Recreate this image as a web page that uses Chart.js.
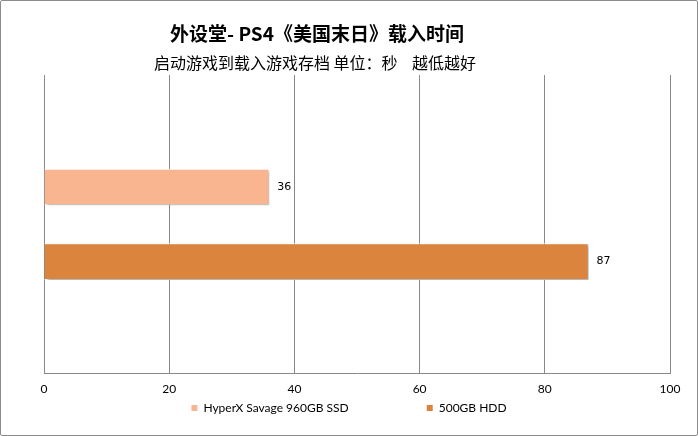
<!DOCTYPE html>
<html>
<head>
<meta charset="utf-8">
<script src="https://cdn.jsdelivr.net/npm/chart.js@4"></script>
<style>
  body { margin: 0; background: #fff; }
  #wrap { position: relative; width: 698px; height: 436px; }
  #frame { position: absolute; left: 0; top: 0; width: 696px; height: 434px;
           border: 1px solid #8c8c8c; border-radius: 2px; pointer-events: none; }
</style>
</head>
<body>
<div id="wrap">
  <canvas id="c"></canvas>
  <div id="frame"></div>
</div>
<script>
// data
const titleText = "外设堂- PS4《美国末日》载入时间";
const subtitleText = "启动游戏到载入游戏存档 单位：秒    越低越好";
const categories = [""];
const seriesNames = ["HyperX Savage 960GB SSD", "500GB HDD"];
const ssdValues = [36];
const hddValues = [87];
const seriesColors = ["#F8B58F", "#DB843D"];
const xTicks = [0, 20, 40, 60, 80, 100];

// titres dessinés a la main (centre decale comme dans l'original)
const titlePlugin = {
  id: "titles",
  afterDraw(chart) {
    const ctx = chart.ctx;
    ctx.save();
    ctx.fillStyle = "#000";
    ctx.textAlign = "center";
    ctx.textBaseline = "middle";
    ctx.font = "bold 19px 'Noto Sans CJK SC', sans-serif";
    ctx.fillText(titleText, 317, 34);
    ctx.font = "16px 'Noto Sans CJK SC', sans-serif";
    ctx.fillText(subtitleText, 315, 63);
    ctx.restore();
  },
};

// etiquettes de valeurs au bout des barres
const valueLabels = {
  id: "valueLabels",
  afterDatasetsDraw(chart) {
    const ctx = chart.ctx;
    ctx.save();
    ctx.fillStyle = "#000";
    ctx.font = "11px 'DejaVu Sans', sans-serif";
    ctx.textAlign = "left";
    ctx.textBaseline = "middle";
    chart.data.datasets.forEach((ds, i) => {
      chart.getDatasetMeta(i).data.forEach((bar, j) => {
        ctx.fillText(ds.data[j], bar.x + 8, bar.y);
      });
    });
    ctx.restore();
  },
};

// ombre portee des barres
const barShadow = {
  id: "barShadow",
  beforeDatasetDraw(chart) {
    const ctx = chart.ctx;
    ctx.save();
    ctx.shadowColor = "rgba(0,0,0,0.35)";
    ctx.shadowOffsetX = 2;
    ctx.shadowOffsetY = 2;
    ctx.shadowBlur = 3;
  },
  afterDatasetDraw(chart) {
    chart.ctx.restore();
  },
};

// legende maison (espacement large entre les items)
const customLegend = {
  id: "customLegend",
  afterDraw(chart) {
    const ctx = chart.ctx;
    const box = 6, gap = 6, itemGap = 78;
    ctx.save();
    ctx.font = "12px Lato, sans-serif";
    ctx.textBaseline = "middle";
    ctx.textAlign = "left";
    const widths = chart.data.datasets.map((ds) => box + gap + ctx.measureText(ds.label).width);
    const total = widths.reduce((a, b) => a + b, 0) + itemGap * (widths.length - 1);
    let x = chart.width / 2 - total / 2;
    const y = 408;
    chart.data.datasets.forEach((ds, i) => {
      ctx.fillStyle = ds.backgroundColor;
      ctx.fillRect(x, y - box / 2, box, box);
      ctx.fillStyle = "#000";
      ctx.fillText(ds.label, x + box + gap, y);
      x += widths[i] + itemGap;
    });
    ctx.restore();
  },
};

new Chart(document.getElementById("c"), {
  type: "bar",
  data: {
    labels: categories,
    datasets: [
      {
        label: seriesNames[0],
        data: ssdValues,
        backgroundColor: seriesColors[0],
        borderColor: "#ffffff",
        borderWidth: 1,
      },
      {
        label: seriesNames[1],
        data: hddValues,
        backgroundColor: seriesColors[1],
        borderColor: "#ffffff",
        borderWidth: 1,
      },
    ],
  },
  options: {
    indexAxis: "y",
    responsive: true,
    maintainAspectRatio: false,
    animation: false,
    categoryPercentage: 0.5,
    barPercentage: 0.49,
    layout: {
      padding: { left: 44, right: 28, top: 75, bottom: 32 },
    },
    plugins: {
      legend: { display: false },
      title: { display: false },
      tooltip: { enabled: false },
    },
    scales: {
      x: {
        min: 0,
        max: 100,
        afterBuildTicks: (axis) => {
          axis.ticks = xTicks.map((v) => ({ value: v }));
        },
        grid: { color: "#888", drawTicks: false },
        border: { display: true, color: "#888" },
        ticks: {
          padding: 8,
          color: "#000",
          font: { family: "Lato", size: 12 },
        },
      },
      y: {
        display: false,
      },
    },
  },
  plugins: [titlePlugin, barShadow, valueLabels, customLegend],
});
</script>
</body>
</html>
